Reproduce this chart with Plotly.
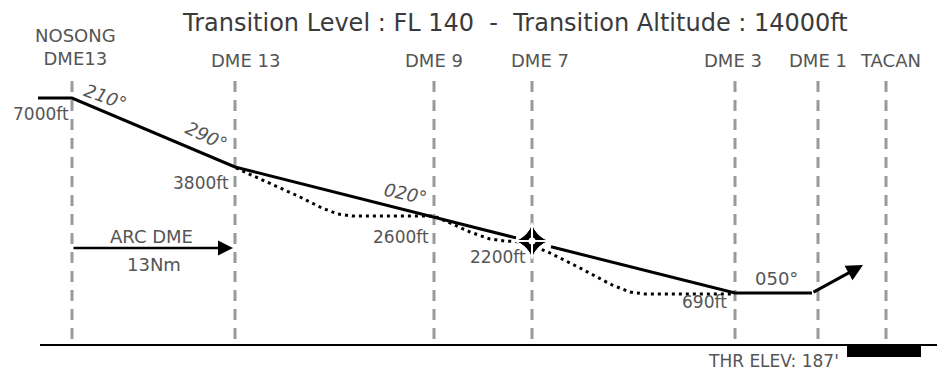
import plotly.graph_objects as go

# ---------------- data ----------------
title_text = "Transition Level : FL 140\u00a0\u00a0-\u00a0\u00a0Transition Altitude : 14000ft"
fix_labels = ["NOSONG<br>DME13", "DME 13", "DME 9", "DME 7", "DME 3", "DME 1", "TACAN"]
fix_pos = [72, 235, 434, 532, 735, 818, 886]          # schematic along-track position
fix_label_dx = [3, 10, 0, 8, -2, 0, 4]

# main descent profile (schematic chart height, larger = lower)
main_x = [38, 72, 235, 434, 532, 735, 812]
main_y = [98, 98, 167, 217, 242, 293, 293]
final_leg = [(812, 293), (863, 265)]

# dotted minimum-step profile
dot_x = [236, 270, 300, 322, 338, 352, 434, 450, 470, 490, 505, 522, 548, 580, 612, 630, 645, 735]
dot_y = [168, 183, 197, 208, 214, 216, 216, 223, 232, 239, 241, 242, 252, 268, 285, 292, 294, 294]

alt_labels = ["7000ft", "3800ft", "2600ft", "2200ft", "690ft"]
alt_label_x = [71, 231, 431, 528, 729]
alt_label_y = [114, 183, 237, 257, 302]

courses = ["210°", "290°", "020°", "050°"]
course_x = [105, 206, 405, 776]
course_y = [96, 135, 193, 278]
course_angle = [20, 25, 12, 0]

arc_from, arc_to = 72, 233
ground_y = 345
thr_label = "THR ELEV: 187'"

# ---------------- figure ----------------
# the page body has an 8px margin; the axes are offset so chart units equal window pixels
PAGE_MARGIN = 8
W, H = 945, 377

fig = go.Figure()
GRAY = "#555555"
FONT = "DejaVu Sans"

# vertical dashed fix lines
for xp in fix_pos:
    fig.add_trace(go.Scatter(x=[xp, xp], y=[81, 340], mode="lines",
                             line=dict(color="#9a9a9a", width=3, dash="11px,8px"),
                             hoverinfo="skip", showlegend=False))

# ground line and runway block
fig.add_trace(go.Scatter(x=[40, W], y=[ground_y, ground_y], mode="lines",
                         line=dict(color="black", width=2), hoverinfo="skip", showlegend=False))
fig.add_shape(type="rect", x0=847, x1=921, y0=ground_y, y1=357,
              fillcolor="black", line=dict(width=0))

# dotted profile
fig.add_trace(go.Scatter(x=dot_x, y=dot_y, mode="lines",
                         line=dict(color="black", width=3, dash="3px,4px"),
                         hoverinfo="skip", showlegend=False))

# main profile (broken at the DME 7 fix symbol)
def interp(x, xs, ys):
    for i in range(len(xs) - 1):
        if xs[i] <= x <= xs[i + 1]:
            return ys[i] + (ys[i + 1] - ys[i]) * (x - xs[i]) / (xs[i + 1] - xs[i])
    return ys[-1]

brk = main_x.index(532)
seg1_x = main_x[:brk] + [516]
seg1_y = main_y[:brk] + [interp(516, main_x, main_y)]
seg2_x = [551] + main_x[brk + 1:]
seg2_y = [interp(551, main_x, main_y)] + main_y[brk + 1:]
for sx, sy in ((seg1_x, seg1_y), (seg2_x, seg2_y)):
    fig.add_trace(go.Scatter(x=sx, y=sy, mode="lines",
                             line=dict(color="black", width=3),
                             hoverinfo="skip", showlegend=False))

# final leg arrow
fig.add_annotation(x=final_leg[1][0], y=final_leg[1][1], ax=final_leg[0][0], ay=final_leg[0][1],
                   xref="x", yref="y", axref="x", ayref="y", showarrow=True,
                   arrowhead=2, arrowsize=1.1, arrowwidth=3, arrowcolor="black", text="")

# DME 7 fix symbol
fig.add_trace(go.Scatter(x=[532], y=[241], mode="markers",
                         marker=dict(symbol="star-diamond", size=26, color="black",
                                     line=dict(color="white", width=1)),
                         hoverinfo="skip", showlegend=False))
fig.add_trace(go.Scatter(x=[532], y=[241], mode="markers",
                         marker=dict(symbol="cross-thin", size=24,
                                     line=dict(color="white", width=2)),
                         hoverinfo="skip", showlegend=False))
fig.add_trace(go.Scatter(x=[532], y=[241], mode="markers",
                         marker=dict(symbol="circle", size=7, color="white"),
                         hoverinfo="skip", showlegend=False))

# ARC DME arrow
fig.add_annotation(x=arc_to, y=248, ax=arc_from, ay=248, xref="x", yref="y",
                   axref="x", ayref="y", showarrow=True, arrowhead=2, arrowsize=1.2,
                   arrowwidth=2.5, arrowcolor="black", text="")
fig.add_annotation(x=151, y=236, text="ARC DME", showarrow=False,
                   font=dict(family=FONT, size=18, color=GRAY))
fig.add_annotation(x=154, y=264, text="13Nm", showarrow=False,
                   font=dict(family=FONT, size=18, color=GRAY))

# title
fig.add_annotation(x=515, y=23, text=title_text, showarrow=False, borderpad=0,
                   font=dict(family=FONT, size=24, color="#3a3a3a"))

# fix labels
for lbl, xp, dx in zip(fix_labels, fix_pos, fix_label_dx):
    yy = 47 if "<br>" in lbl else 60
    fig.add_annotation(x=xp + dx, y=yy, text=lbl, showarrow=False,
                       font=dict(family=FONT, size=18, color=GRAY))

# altitude labels
for lbl, xp, yp in zip(alt_labels, alt_label_x, alt_label_y):
    fig.add_annotation(x=xp, y=yp, text=lbl, showarrow=False, xanchor="right",
                       font=dict(family=FONT, size=17, color=GRAY))

# course labels
for lbl, xp, yp, ang in zip(courses, course_x, course_y, course_angle):
    txt = lbl if ang == 0 else "<i>" + lbl + "</i>"
    fig.add_annotation(x=xp, y=yp, text=txt, showarrow=False, textangle=ang,
                       font=dict(family=FONT, size=18, color=GRAY))

# threshold elevation
fig.add_annotation(x=773, y=361, text=thr_label, showarrow=False,
                   font=dict(family=FONT, size=17, color=GRAY))

fig.update_xaxes(range=[PAGE_MARGIN, W], visible=False, fixedrange=True)
fig.update_yaxes(range=[H, PAGE_MARGIN], visible=False, fixedrange=True)
fig.update_layout(width=W - PAGE_MARGIN, height=H - PAGE_MARGIN,
                  margin=dict(l=0, r=0, t=0, b=0),
                  paper_bgcolor="white", plot_bgcolor="white", showlegend=False)

fig.write_html("out.html")
